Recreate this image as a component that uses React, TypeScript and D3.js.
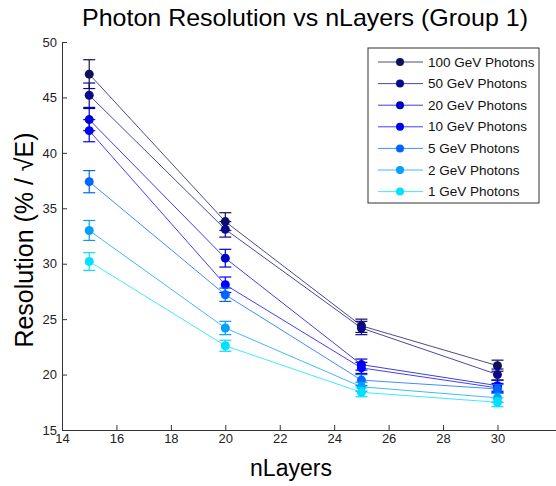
import { useEffect, useRef } from "react";
import * as d3 from "d3";

const layers = [15, 20, 25, 30];

const seriesNames = [
  "100 GeV Photons",
  "50 GeV Photons",
  "20 GeV Photons",
  "10 GeV Photons",
  "5 GeV Photons",
  "2 GeV Photons",
  "1 GeV Photons",
];

const res100 = [47.1, 33.8, 24.4, 20.8];
const res50 = [45.2, 33.1, 24.2, 20.0];
const res20 = [43.0, 30.5, 20.9, 19.0];
const res10 = [42.0, 28.1, 20.6, 18.8];
const res5 = [37.4, 27.2, 19.5, 18.7];
const res2 = [33.0, 24.2, 18.9, 17.9];
const res1 = [30.2, 22.6, 18.4, 17.5];

const err100 = [1.3, 0.8, 0.6, 0.5];
const err50 = [1.1, 0.7, 0.6, 0.5];
const err20 = [1.0, 0.8, 0.5, 0.5];
const err10 = [1.0, 0.7, 0.5, 0.4];
const err5 = [1.0, 0.6, 0.5, 0.4];
const err2 = [0.9, 0.6, 0.4, 0.4];
const err1 = [0.8, 0.5, 0.4, 0.4];

const xTicks = [14, 16, 18, 20, 22, 24, 26, 28, 30];
const yTicks = [15, 20, 25, 30, 35, 40, 45, 50];

const colors = ["#10105a", "#0a0a8c", "#0000c8", "#0000ff", "#0066ff", "#00a0ff", "#00e0ff"];

interface Pt {
  x: number;
  y: number;
  e: number;
}

export default function App() {
  const ref = useRef<SVGSVGElement>(null);

  useEffect(() => {
    const svg = d3.select(ref.current);
    svg.selectAll("*").remove();

    const left = 62, right = 556, top = 42, bottom = 430;
    const x = d3.scaleLinear().domain([14, 32.15]).range([left, right]);
    const y = d3.scaleLinear().domain([15, 50]).range([bottom, top]);

    const font = "Arial, 'Liberation Sans', sans-serif";

    svg.append("rect").attr("width", 556).attr("height", 486).attr("fill", "#fff");

    // axes, ticks pointing inward
    const xa = svg
      .append("g")
      .attr("transform", `translate(0,${bottom})`)
      .call(d3.axisBottom(x).tickValues(xTicks).tickSizeInner(-5).tickSizeOuter(0).tickPadding(4).tickFormat(d3.format("d")));
    const ya = svg
      .append("g")
      .attr("transform", `translate(${left},0)`)
      .call(d3.axisLeft(y).tickValues(yTicks).tickSizeInner(-5).tickSizeOuter(0).tickPadding(5).tickFormat(d3.format("d")));
    [xa, ya].forEach(a => {
      a.selectAll("path,line").attr("stroke", "#333");
      a.selectAll("text").attr("font-family", font).attr("font-size", 13).attr("fill", "#222");
    });

    const all = [res100, res50, res20, res10, res5, res2, res1];
    const errs = [err100, err50, err20, err10, err5, err2, err1];

    const line = d3.line<Pt>().x(d => x(d.x)).y(d => y(d.y));

    all.forEach((vals, i) => {
      const pts: Pt[] = vals.map((v, j) => ({ x: layers[j], y: v, e: errs[i][j] }));
      const g = svg.append("g");
      g.append("path")
        .attr("d", line(pts))
        .attr("fill", "none")
        .attr("stroke", colors[i])
        .attr("stroke-opacity", 0.75)
        .attr("stroke-width", 1);
      const eb = g.selectAll(".eb").data(pts).enter().append("g").attr("stroke", colors[i]).attr("stroke-width", 1.2);
      eb.append("line")
        .attr("x1", d => x(d.x)).attr("x2", d => x(d.x))
        .attr("y1", d => y(d.y - d.e)).attr("y2", d => y(d.y + d.e));
      eb.append("line")
        .attr("x1", d => x(d.x) - 6).attr("x2", d => x(d.x) + 6)
        .attr("y1", d => y(d.y - d.e)).attr("y2", d => y(d.y - d.e));
      eb.append("line")
        .attr("x1", d => x(d.x) - 6).attr("x2", d => x(d.x) + 6)
        .attr("y1", d => y(d.y + d.e)).attr("y2", d => y(d.y + d.e));
      g.selectAll(".pt").data(pts).enter().append("circle")
        .attr("cx", d => x(d.x)).attr("cy", d => y(d.y))
        .attr("r", 4.5).attr("fill", colors[i]);
    });

    // legend
    const lg = svg.append("g").attr("transform", "translate(368,48)");
    lg.append("rect").attr("width", 171).attr("height", 155).attr("fill", "#fff").attr("stroke", "#333");
    seriesNames.forEach((name, i) => {
      const ly = 14 + i * 21.6;
      lg.append("line").attr("x1", 10).attr("x2", 55).attr("y1", ly).attr("y2", ly)
        .attr("stroke", colors[i]).attr("stroke-opacity", 0.75);
      lg.append("circle").attr("cx", 32).attr("cy", ly).attr("r", 4).attr("fill", colors[i]);
      lg.append("text").attr("x", 60).attr("y", ly + 4.5).text(name)
        .attr("font-family", font).attr("font-size", 13.5).attr("fill", "#111");
    });

    // titles
    svg.append("text").attr("x", 305).attr("y", 26).attr("text-anchor", "middle")
      .attr("font-family", font).attr("font-size", 24).attr("fill", "#000")
      .attr("textLength", 446).attr("lengthAdjust", "spacingAndGlyphs")
      .text("Photon Resolution vs nLayers (Group 1)");
    svg.append("text").attr("x", 291).attr("y", 476).attr("text-anchor", "middle")
      .attr("font-family", font).attr("font-size", 23).attr("fill", "#000")
      .text("nLayers");
    svg.append("text").attr("transform", "translate(33,240) rotate(-90)").attr("text-anchor", "middle")
      .attr("font-family", font).attr("font-size", 25).attr("fill", "#000")
      .text("Resolution (% / √E)");
  }, []);

  return (
    <svg ref={ref} width={556} height={486} style={{ position: "absolute", left: 0, top: 0 }} />
  );
}
